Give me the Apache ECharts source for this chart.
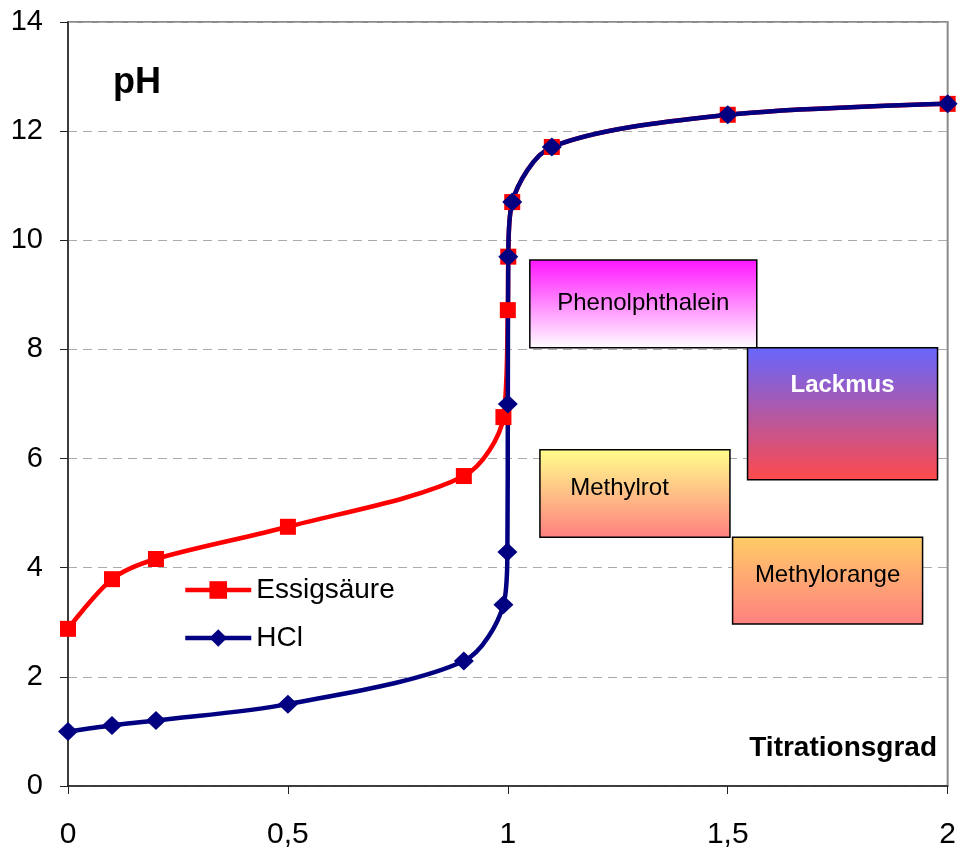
<!DOCTYPE html>
<html>
<head>
<meta charset="utf-8">
<script src="https://cdn.jsdelivr.net/npm/echarts@6/dist/echarts.min.js"></script>
<style>
  html, body { margin: 0; padding: 0; background: #fff; }
  #chart { width: 959px; height: 850px; }
</style>
</head>
<body>
<div id="chart"></div>
<script>
// Titrationskurven: Essigsäure vs. HCl
const xEssig = [0, 0.1, 0.2, 0.5, 0.9, 0.99, 1.0, 1.001, 1.01, 1.1, 1.5, 2]
const yEssig = [2.88, 3.79, 4.16, 4.75, 5.68, 6.76, 8.72, 9.7, 10.7, 11.71, 12.3, 12.5]
const xHCl = [0, 0.1, 0.2, 0.5, 0.9, 0.99, 0.999, 1.0, 1.001, 1.01, 1.1, 1.5, 2]
const yHCl = [1.0, 1.11, 1.2, 1.5, 2.29, 3.32, 4.29, 7.0, 9.7, 10.7, 11.71, 12.3, 12.5]

// Indikatoren: Name, x von/bis, pH von/bis
const indNames = ['Phenolphthalein', 'Lackmus', 'Methylrot', 'Methylorange']
const indX = [[1.05, 1.566], [1.545, 1.977], [1.073, 1.505], [1.511, 1.943]]
const indPH = [[8.03, 9.64], [5.61, 8.03], [4.56, 6.16], [2.97, 4.56]]
const indTop = ['#ff14ff', '#6666ff', '#ffff8c', '#ffcc66']
const indBottom = ['#ffffff', '#ff4a4a', '#ff8080', '#ff8080']

const font = 'Liberation Sans, Arial, sans-serif'

function grad(top, bottom) {
  return new echarts.graphic.LinearGradient(0, 0, 0, 1, [
    { offset: 0, color: top },
    { offset: 1, color: bottom }
  ])
}

const areas = indNames.map(function (name, i) {
  let label = { show: true, position: 'inside', color: '#000', fontSize: 24, fontFamily: font }
  if (name === 'Lackmus') {
    label = { show: true, position: 'insideTop', distance: 26, color: '#fff', fontSize: 24, fontWeight: 'bold', fontFamily: font }
  }
  if (name === 'Methylrot') {
    label = { show: true, position: 'insideLeft', distance: 31, offset: [0, -5], color: '#000', fontSize: 24, fontFamily: font }
  }
  if (name === 'Methylorange') {
    label.offset = [0, -5]
  }
  return [
    {
      name: name,
      coord: [indX[i][0], indPH[i][1]],
      itemStyle: { color: grad(indTop[i], indBottom[i]), borderColor: '#000', borderWidth: 1.5 },
      label: label
    },
    { coord: [indX[i][1], indPH[i][0]] }
  ]
})

const chart = echarts.init(document.getElementById('chart'))

const option = {
  animation: false,
  backgroundColor: '#fff',
  textStyle: { fontFamily: font },
  grid: {
    left: 68, right: 11, top: 22, bottom: 64,
    show: true, borderColor: '#8a8a8a', borderWidth: 2
  },
  title: [
    { text: 'pH', left: 108, top: 60, textStyle: { fontSize: 36, fontWeight: 'bold', color: '#000', fontFamily: font } },
    { text: 'Titrationsgrad', right: 17, top: 729, textStyle: { fontSize: 28, fontWeight: 'bold', color: '#000', fontFamily: font } }
  ],
  legend: {
    orient: 'vertical',
    left: 178,
    top: 571,
    itemWidth: 66,
    itemHeight: 22,
    itemGap: 20,
    lineStyle: { width: 4.5 },
    textStyle: { fontSize: 28, color: '#000', fontFamily: font },
    data: ['Essigsäure', 'HCl']
  },
  xAxis: {
    type: 'value',
    min: 0,
    max: 2,
    interval: 0.5,
    axisLine: { lineStyle: { color: '#222', width: 1.5 } },
    axisTick: { show: true, length: 8, lineStyle: { color: '#222' } },
    axisLabel: {
      margin: 34, fontSize: 30, color: '#000', fontFamily: font,
      formatter: function (v) { return String(v).replace('.', ',') }
    },
    splitLine: { show: false }
  },
  yAxis: {
    type: 'value',
    min: 0,
    max: 14,
    interval: 2,
    axisLine: { show: true, lineStyle: { color: '#222', width: 1.5 } },
    axisTick: { show: true, length: 8, lineStyle: { color: '#222' } },
    axisLabel: { margin: 25, fontSize: 29, color: '#000', fontFamily: font },
    splitLine: { show: true, lineStyle: { color: '#aaa', type: [9, 6], width: 1 } }
  },
  series: [
    {
      name: 'Essigsäure',
      type: 'line',
      data: xEssig.map((x, i) => [x, yEssig[i]]),
      smooth: 0.3,
      symbol: 'rect',
      symbolSize: 16,
      lineStyle: { color: '#ff0000', width: 4.5 },
      itemStyle: { color: '#ff0000' },
      markArea: { silent: true, data: areas }
    },
    {
      name: 'HCl',
      type: 'line',
      data: xHCl.map((x, i) => [x, yHCl[i]]),
      smooth: 0.3,
      symbol: 'diamond',
      symbolSize: [20, 19],
      lineStyle: { color: '#000080', width: 4.5 },
      itemStyle: { color: '#000080' }
    }
  ]
}

chart.setOption(option)
</script>
</body>
</html>
